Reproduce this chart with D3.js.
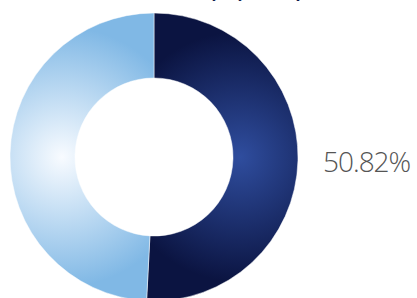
<!DOCTYPE html>
<html>
<head>
    <meta charset="utf-8">
    <title>donut</title>
    <style type="text/css">
        html, body {
            margin: 0;
            padding: 0;
            background: #fff;
            overflow: hidden;
        }
    </style>
</head>
<body>
<script src="https://cdn.jsdelivr.net/npm/d3@7"></script>
<script type="text/javascript">
    // data
    var categories = ["Dark", "Light"];
    var values = [50.82, 49.18];
    var labelText = ["50.82%"];

    var width = 417, height = 298;
    var cx = 154, cy = 157;
    var outerR = 144, innerR = 79;

    var svg = d3.select("body")
        .append("svg")
        .attr("width", width)
        .attr("height", height);

    // radial gradients, one per slice (coordinates relative to the donut centre)
    var defs = svg.append("defs");
    var grads = [
        {id: "gDark", x: 86, y: 0, r: 125, c0: "#2f4d9e", c1: "#0b1441"},
        {id: "gLight", x: -92, y: 0, r: 130, c0: "#f8fbff", c1: "#80b8e5"}
    ];
    grads.forEach(function (g) {
        var rg = defs.append("radialGradient")
            .attr("id", g.id)
            .attr("gradientUnits", "userSpaceOnUse")
            .attr("cx", g.x).attr("cy", g.y).attr("r", g.r);
        rg.append("stop").attr("offset", "0%").attr("stop-color", g.c0);
        rg.append("stop").attr("offset", "100%").attr("stop-color", g.c1);
    });

    // title (cut off at the top edge, as in the picture)
    svg.append("text")
        .attr("x", 237)
        .attr("y", -3)
        .attr("text-anchor", "middle")
        .style("font-family", "Lato, 'Open Sans', sans-serif")
        .style("font-weight", "bold")
        .style("font-size", "20px")
        .style("fill", "#0e1a4a")
        .text("Policy by Group");

    var pie = d3.pie().sort(null).value(function (d) { return d; });
    var arc = d3.arc().innerRadius(innerR).outerRadius(outerR);

    var g = svg.append("g").attr("transform", "translate(" + cx + "," + cy + ")");
    g.selectAll("path")
        .data(pie(values))
        .enter()
        .append("path")
        .attr("d", arc)
        .attr("fill", function (d, i) { return "url(#" + grads[i].id + ")"; })
        .attr("stroke", "#fff")
        .attr("stroke-width", 0.5);

    svg.append("text")
        .attr("x", 323)
        .attr("y", 172)
        .style("font-family", "'Open Sans', sans-serif")
        .style("font-weight", 300)
        .style("font-size", "28px")
        .style("letter-spacing", "-1px")
        .style("fill", "#555")
        .text(labelText[0]);
</script>
</body>
</html>
